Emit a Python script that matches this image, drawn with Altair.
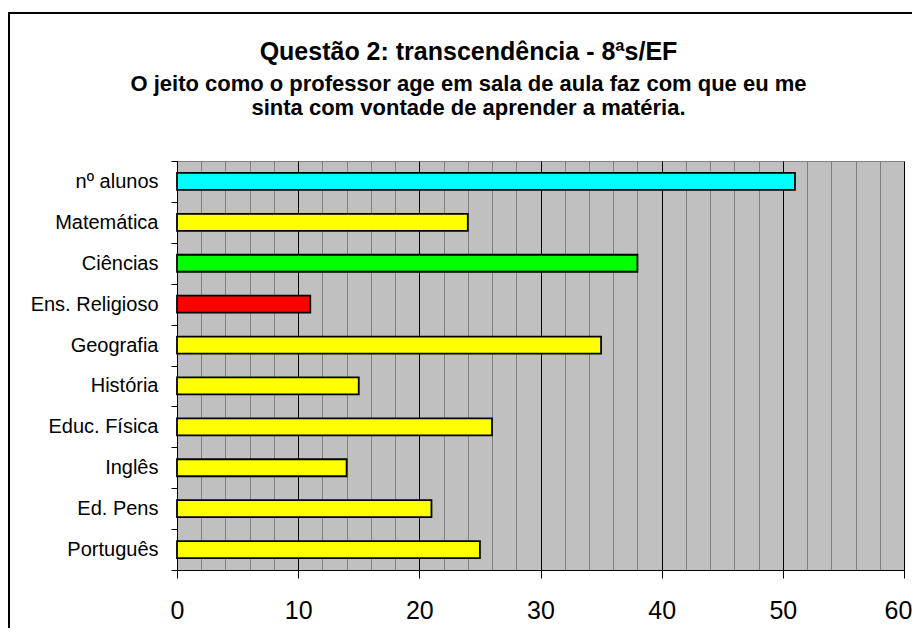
import altair as alt
import pandas as pd

categories = ["nº alunos", "Matemática", "Ciências", "Ens. Religioso", "Geografia",
              "História", "Educ. Física", "Inglês", "Ed. Pens", "Português"]
values = [51, 24, 38, 11, 35, 15, 26, 14, 21, 25]
colors = ["#00FFFF", "#FFFF00", "#00FF00", "#FF0000", "#FFFF00",
          "#FFFF00", "#FFFF00", "#FFFF00", "#FFFF00", "#FFFF00"]
x_grid_values = list(range(0, 61, 2))

title_text = "Questão 2: transcendência - 8ªs/EF"
subtitle_lines = ["O jeito como o professor age em sala de aula faz com que eu me",
                  "sinta com vontade de aprender a matéria."]

FONT = "Liberation Sans"

df = pd.DataFrame({"disciplina": categories, "alunos": values, "cor": colors})

major = "datum.value % 10 === 0"

bars = alt.Chart(df).mark_bar(size=17, stroke="black", strokeWidth=1.8).encode(
    x=alt.X(
        "alunos:Q",
        scale=alt.Scale(domain=[0, 60], nice=False),
        axis=alt.Axis(
            values=x_grid_values, title=None, grid=True,
            gridColor=alt.condition(major, alt.value("black"), alt.value("#808080")),
            gridWidth=1,
            tickOpacity=alt.condition(major, alt.value(1), alt.value(0)),
            labelExpr="datum.value % 10 === 0 ? datum.label : ''",
            labelOffset=alt.condition("datum.value === 60", alt.value(-6), alt.value(0)),
            tickColor="black", tickSize=8, domainColor="black", domainWidth=1,
            labelFont=FONT, labelFontSize=25, labelColor="black", labelPadding=20,
            labelFlush=False, labelOverlap=False,
        ),
    ),
    y=alt.Y(
        "disciplina:N", sort=categories,
        scale=alt.Scale(paddingInner=0, paddingOuter=0),
        axis=alt.Axis(
            title=None, tickBand="extent", ticks=True, tickSize=6, tickColor="black",
            domainColor="black", domainWidth=1, grid=False,
            labelFont=FONT, labelFontSize=20, labelColor="black", labelPadding=13,
        ),
    ),
    fill=alt.Fill("cor:N", scale=None),
)

frame = alt.Chart(pd.DataFrame({"f": [0]})).mark_rect(
    fill="transparent", stroke="black", strokeWidth=2
).encode(
    x=alt.value(-168), x2=alt.value(900), y=alt.value(-148), y2=alt.value(800)
)

chart = alt.layer(frame, bars).properties(
    width=727,
    height=409,
    autosize=alt.AutoSizeParams(type="none"),
    padding={"left": 169, "top": 153, "right": 8, "bottom": 58},
    title=alt.TitleParams(
        text=title_text, subtitle=subtitle_lines, anchor="middle", frame="group",
        dx=-72, offset=-107,
        font=FONT, fontSize=25, fontWeight="bold", color="black",
        subtitleFont=FONT, subtitleFontSize=22, subtitleFontWeight="bold",
        subtitleColor="black", subtitleLineHeight=24, subtitlePadding=9,
    ),
).configure_view(fill="#C0C0C0", stroke="#808080", strokeWidth=1)

chart.save("out.html", embed_options={"renderer": "svg", "actions": False})
